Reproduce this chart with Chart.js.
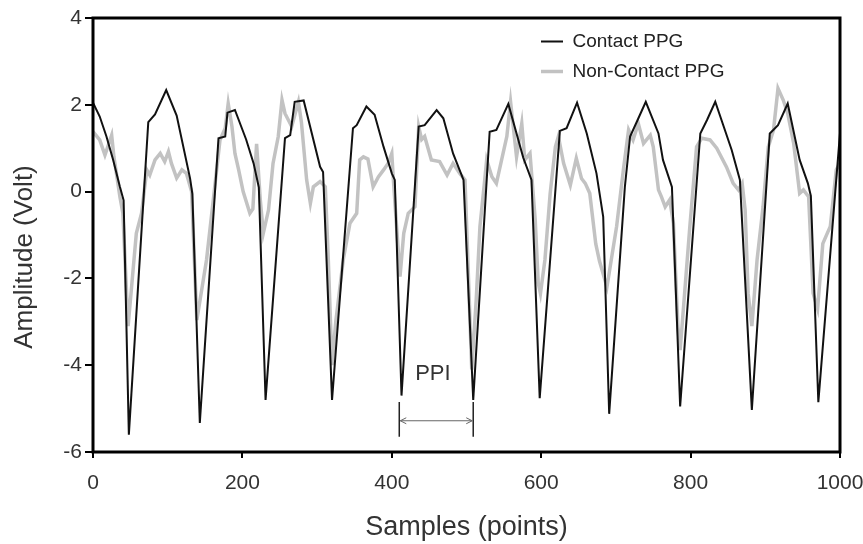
<!DOCTYPE html>
<html>
<head>
<meta charset="utf-8">
<script src="https://cdn.jsdelivr.net/npm/chart.js@4.4.0/dist/chart.umd.min.js"></script>
<style>
  html, body { margin: 0; padding: 0; background: #fff; }
  .chart-container { position: relative; width: 863px; height: 544px; }
</style>
</head>
<body>
<div class="chart-container"><canvas id="ppg-chart" width="863" height="544"></canvas></div>
<script>
// samples (x) and amplitude in volts (y)
const contactSamples = [0, 9, 18, 27, 36, 41, 48, 74, 83, 98, 112, 130, 133, 143,
  168, 177, 180, 190, 205, 215, 222, 231, 257, 264, 270, 282, 304, 308, 320,
  348, 353, 366, 377, 389, 400, 404, 413, 436, 444, 460, 469, 482, 496, 509,
  531, 540, 556, 576, 587, 598, 625, 634, 648, 661, 674, 683, 691,
  712, 719, 728, 740, 757, 763, 775, 786, 813, 822, 833, 855, 866, 882,
  906, 917, 930, 946, 957, 961, 971, 1000];
const contactVolts = [2.05, 1.73, 1.27, 0.73, 0.11, -0.2, -5.6, 1.6, 1.78, 2.34, 1.75, 0.3, -0.05, -5.33,
  1.23, 1.27, 1.82, 1.88, 1.2, 0.65, 0.1, -4.8, 1.23, 1.3, 2.07, 2.1, 0.57, 0.45, -4.8,
  1.46, 1.53, 1.96, 1.77, 1.03, 0.42, 0.27, -4.7, 1.5, 1.53, 1.88, 1.69, 0.88, 0.27, -4.8,
  1.38, 1.42, 2.02, 0.78, 0.27, -4.76, 1.4, 1.46, 2.05, 1.34, 0.42, -0.58, -5.12,
  0.11, 1.27, 1.61, 2.07, 1.34, 0.73, 0.11, -4.95, 1.34, 1.65, 2.07, 0.96, 0.27, -5.03,
  1.34, 1.53, 2.03, 0.73, 0.19, -0.1, -4.85, 1.35];

const nonContactSamples = [0, 9, 16, 25, 28, 36, 40, 47, 58, 65, 72, 76, 83, 90, 96, 101, 105, 112, 119, 125, 132, 139,
  152, 161, 170, 177, 181, 186, 190, 195, 201, 210, 214, 219, 224, 228, 235, 241, 248, 253, 257, 266, 275, 279,
  286, 291, 295, 304, 311, 315, 320, 325, 335, 344, 353, 357, 362, 368, 375, 382, 389, 395, 400, 402, 411,
  416, 422, 431, 436, 440, 444, 453, 464, 474, 482, 491, 498, 507, 513, 518, 524, 527, 534, 540, 547, 554,
  559, 567, 574, 578, 585, 592, 596, 599, 605, 612, 619, 623, 630, 639, 647, 654, 659, 665, 673, 678, 688,
  701, 710, 717, 723, 730, 737, 746, 750, 757, 761, 766, 772, 777, 783, 786, 792, 799, 808, 815, 826, 835,
  848, 857, 864, 869, 873, 877, 882, 889, 897, 904, 911, 917, 924, 930, 938, 946, 951, 958, 964, 970, 977,
  987, 995, 1000];
const nonContactVolts = [1.38, 1.19, 0.84, 1.3, 0.8, -0.12, -0.5, -3.1, -0.96, -0.5, 0.5, 0.38, 0.73, 0.88, 0.69, 0.92, 0.65, 0.31, 0.5, 0.42, 0, -2.96,
  -1.57, -0.19, 1.19, 1.46, 2.03, 1.5, 0.88, 0.5, 0, -0.5, -0.4, 1.1, -0.2, -0.96, -0.42, 0.65, 1.27, 2.11, 1.8, 1.5, 2.07, 1.6,
  0.27, -0.27, 0.11, 0.23, 0.11, -1.57, -4.0, -3.0, -1.57, -0.73, -0.5, 0.73, 0.8, 0.75, 0.11, 0.34, 0.5, 0.65, 0.88, 0.3, -1.96,
  -0.96, -0.5, -0.35, 1.5, 1.2, 1.27, 0.73, 0.69, 0.38, 0.65, 0.42, 0.27, -4.1, -2.5, -0.8, 0.2, 0.73, 0.34, 0.19, 0.73, 1.27,
  2.07, 0.8, 1.57, 0.73, 0.88, -0.65, -2.1, -2.35, -1.57, -0.04, 1.03, 1.27, 0.65, 0.15, 0.77, 0.3, 0.19, -0.04, -1.2, -1.6, -2.2,
  -0.8, 0.5, 1.42, 1.19, 1.57, 1.11, 1.3, 1.03, 0.04, -0.12, -0.35, -0.19, -0.73, -3.11, -3.65, -2.34, -0.8, 1.03, 1.23, 1.19, 1.0,
  0.57, 0.19, 0.04, 0.19, -0.42, -2.34, -3.1, -1.57, -0.35, 1.03, 1.42, 2.38, 2.11, 1.8, 1.11, -0.04, 0.04, -0.12, -2.34, -2.7, -1.2,
  -0.8, 0.5, 0.65];

const xTicks = [0, 200, 400, 600, 800, 1000];
const yTicks = [-6, -4, -2, 0, 2, 4];

// peak-to-peak interval marker (samples of the two troughs)
const ppiSamples = [410, 509];

const FONT = "'Liberation Sans', Arial, sans-serif";
const TEXT = '#333';

function toPoints(xs, ys) {
  return xs.map((x, i) => ({ x: x, y: ys[i] }));
}

const decorPlugin = {
  id: 'decor',
  afterLayout(chart) {
    // put the legend inside the plot, top right
    const lg = chart.legend;
    if (!lg) return;
    const h = 80;
    lg.left = 530;
    lg.top = 21;
    lg.right = lg.left + lg.width;
    lg.bottom = lg.top + h;
  },
  afterDatasetsDraw(chart) {
    const { ctx, chartArea: a } = chart;
    ctx.save();
    ctx.strokeStyle = '#000';
    ctx.lineWidth = 3;
    ctx.strokeRect(a.left, a.top, a.right - a.left, a.bottom - a.top);
    ctx.restore();
  },
  afterDraw(chart) {
    const { ctx } = chart;
    const xs = chart.scales.x, ys = chart.scales.y;

    // PPI annotation
    const x1 = xs.getPixelForValue(ppiSamples[0]);
    const x2 = xs.getPixelForValue(ppiSamples[1]);
    const yTop = ys.getPixelForValue(-4.85);
    const yBot = ys.getPixelForValue(-5.65);
    const yArr = ys.getPixelForValue(-5.28);
    ctx.save();
    ctx.strokeStyle = '#222';
    ctx.lineWidth = 1.5;
    ctx.beginPath();
    ctx.moveTo(x1, yTop); ctx.lineTo(x1, yBot);
    ctx.moveTo(x2, yTop); ctx.lineTo(x2, yBot);
    ctx.stroke();
    ctx.strokeStyle = '#666';
    ctx.lineWidth = 1;
    ctx.beginPath();
    ctx.moveTo(x1 + 1, yArr); ctx.lineTo(x2 - 1, yArr);
    ctx.moveTo(x1 + 7, yArr - 3); ctx.lineTo(x1 + 1, yArr); ctx.lineTo(x1 + 7, yArr + 3);
    ctx.moveTo(x2 - 7, yArr - 3); ctx.lineTo(x2 - 1, yArr); ctx.lineTo(x2 - 7, yArr + 3);
    ctx.stroke();
    ctx.fillStyle = TEXT;
    ctx.font = '22px ' + FONT;
    ctx.textAlign = 'center';
    ctx.textBaseline = 'middle';
    ctx.fillText('PPI', xs.getPixelForValue(455), ys.getPixelForValue(-4.19));

    // y axis title
    ctx.translate(25, 257);
    ctx.rotate(-Math.PI / 2);
    ctx.font = '26px ' + FONT;
    ctx.fillText('Amplitude (Volt)', 0, 0);
    ctx.restore();
  }
};

const ctx = document.getElementById('ppg-chart').getContext('2d');
const chart = new Chart(ctx, {
  type: 'scatter',
  data: {
    datasets: [{
      label: 'Contact PPG',
      data: toPoints(contactSamples, contactVolts),
      borderColor: '#111',
      backgroundColor: '#111',
      borderWidth: 2,
      pointRadius: 0,
      showLine: true,
      tension: 0,
    }, {
      label: 'Non-Contact PPG',
      data: toPoints(nonContactSamples, nonContactVolts),
      borderColor: '#c2c2c2',
      backgroundColor: '#c2c2c2',
      borderWidth: 3.5,
      pointRadius: 0,
      showLine: true,
      tension: 0,
    }]
  },
  options: {
    responsive: false,
    animation: false,
    devicePixelRatio: 1,
    layout: { padding: { left: 0, right: 23, top: 18, bottom: 0 } },
    plugins: {
      legend: {
        position: 'chartArea',
        align: 'start',
        labels: {
          usePointStyle: true,
          pointStyle: 'line',
          pointStyleWidth: 22,
          padding: 11,
          color: '#222',
          font: { family: FONT, size: 19 },
        }
      },
      tooltip: { enabled: false },
    },
    scales: {
      x: {
        type: 'linear',
        min: 0,
        max: 1000,
        afterBuildTicks: s => { s.ticks = xTicks.map(v => ({ value: v })); },
        afterFit: s => { s.height = 92; s.paddingLeft = 0; s.paddingRight = 0; },
        ticks: {
          color: TEXT, padding: 13, maxRotation: 0,
          font: { family: FONT, size: 21 },
          callback: v => String(v),
        },
        grid: { drawOnChartArea: false, drawTicks: true, tickLength: 6, color: '#000', lineWidth: 2 },
        border: { display: false },
        title: {
          display: true,
          text: 'Samples (points)',
          color: TEXT,
          padding: { top: 0, bottom: 0 },
          font: { family: FONT, size: 27 },
        },
      },
      y: {
        type: 'linear',
        min: -6,
        max: 4,
        afterBuildTicks: s => { s.ticks = yTicks.map(v => ({ value: v })); },
        afterFit: s => { s.width = 93; s.paddingTop = 0; s.paddingBottom = 0; },
        ticks: {
          color: TEXT, padding: 3,
          font: { family: FONT, size: 21 },
          callback: v => String(v),
        },
        grid: { drawOnChartArea: false, drawTicks: true, tickLength: 8, color: '#000', lineWidth: 2 },
        border: { display: false },
      },
    },
  },
  plugins: [decorPlugin],
});
</script>
</body>
</html>
